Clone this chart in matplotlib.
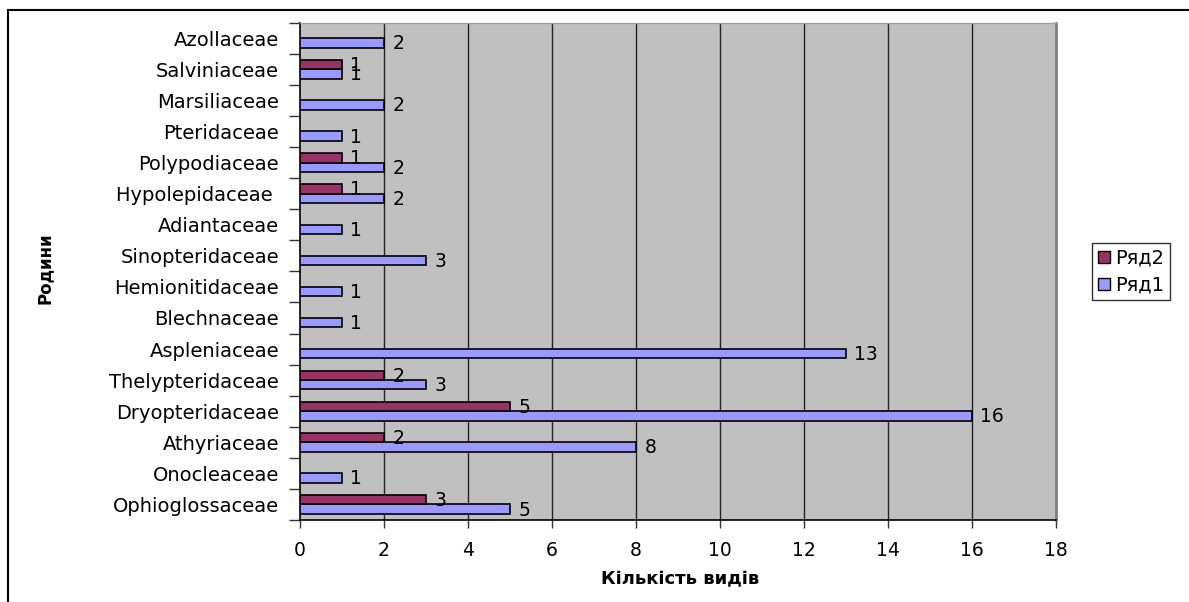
import matplotlib
matplotlib.use("Agg")
import matplotlib.pyplot as plt
import numpy as np
from matplotlib.patches import Rectangle, Patch

plt.rcParams['font.family'] = ['DejaVu Sans']

categories = ["Ophioglossaceae", "Onocleaceae", "Athyriaceae", "Dryopteridaceae",
              "Thelypteridaceae", "Aspleniaceae", "Blechnaceae", "Hemionitidaceae",
              "Sinopteridaceae", "Adiantaceae", "Hypolepidaceae ", "Polypodiaceae",
              "Pteridaceae", "Marsiliaceae", "Salviniaceae", "Azollaceae"]
series1 = [5, 1, 8, 16, 3, 13, 1, 1, 3, 1, 2, 2, 1, 2, 1, 2]   # Ряд1
series2 = [3, 0, 2, 5, 2, 0, 0, 0, 0, 0, 1, 1, 0, 0, 1, 0]     # Ряд2
xticks = [0, 2, 4, 6, 8, 10, 12, 14, 16, 18]

c1 = "#9999FF"
c2 = "#993366"

fig = plt.figure(figsize=(11.89, 6.02), dpi=100)
ax = fig.add_axes([300/1189, 1-520/602, (1056-300)/1189, (520-22.7)/602])
ax.set_facecolor("#C0C0C0")

y = np.arange(len(categories))
h = 0.3
ax.barh(y - h/2, series1, height=h, color=c1, edgecolor="black", linewidth=1.2, zorder=3)
s2 = np.array(series2)
mask = s2 > 0
ax.barh(y[mask] + h/2, s2[mask], height=h, color=c2, edgecolor="black", linewidth=1.2, zorder=3)

for yi, v in zip(y, series1):
    if v:
        ax.text(v + 0.2, yi - h/2 - 0.03, str(v), va="center", ha="left", fontsize=13.5, zorder=4)
for yi, v in zip(y, series2):
    if v:
        ax.text(v + 0.2, yi + h/2 - 0.03, str(v), va="center", ha="left", fontsize=13.5, zorder=4)

ax.set_xlim(0, 18)
ax.set_ylim(-0.5, len(categories) - 0.5)
ax.set_xticks(xticks)
ax.set_xticklabels([str(t) for t in xticks], fontsize=13.5)
ax.set_yticks(y)
ax.set_yticklabels(categories, fontsize=14)
ax.set_yticks(np.arange(-0.5, len(categories), 1.0), minor=True)
ax.tick_params(axis="y", which="major", length=0, pad=15)
ax.tick_params(axis="y", which="minor", length=8, width=1, color="#333333")
ax.tick_params(axis="x", which="major", length=6, width=1, color="#333333", pad=9)

for t in xticks[1:-1]:
    ax.axvline(t, color="#222222", linewidth=1.0, zorder=1)

for s in ["left", "bottom"]:
    ax.spines[s].set_color("black")
    ax.spines[s].set_linewidth(1.2)
ax.spines["top"].set_color("#A0A0A0")
ax.spines["top"].set_linewidth(1.0)
ax.spines["right"].set_color("#808080")
ax.spines["right"].set_linewidth(2.0)

fig.text(680/1189, 1-579/602, "Кількість видів", ha="center", va="center",
         fontsize=13, fontweight="bold")
fig.text(45/1189, 1-268/602, "Родини", ha="center", va="center",
         fontsize=12, fontweight="bold", rotation=90)

handles = [Patch(facecolor=c2, edgecolor="black", label="Ряд2"),
           Patch(facecolor=c1, edgecolor="black", label="Ряд1")]
leg = fig.legend(handles=handles, loc="upper left", bbox_to_anchor=(1092/1189, 1-243/602),
                 frameon=True, fancybox=False, fontsize=14, handlelength=0.6, handleheight=0.6,
                 handletextpad=0.3, borderpad=0.3, labelspacing=0.4, borderaxespad=0)
leg.get_frame().set_edgecolor("black")
leg.get_frame().set_linewidth(1.0)

fig.patches.append(Rectangle((8/1189, -0.1), 1.2, 1 - 10/602 + 0.1, transform=fig.transFigure,
                             fill=False, edgecolor="black", linewidth=1.5))

fig.savefig("out.png", dpi=100)
